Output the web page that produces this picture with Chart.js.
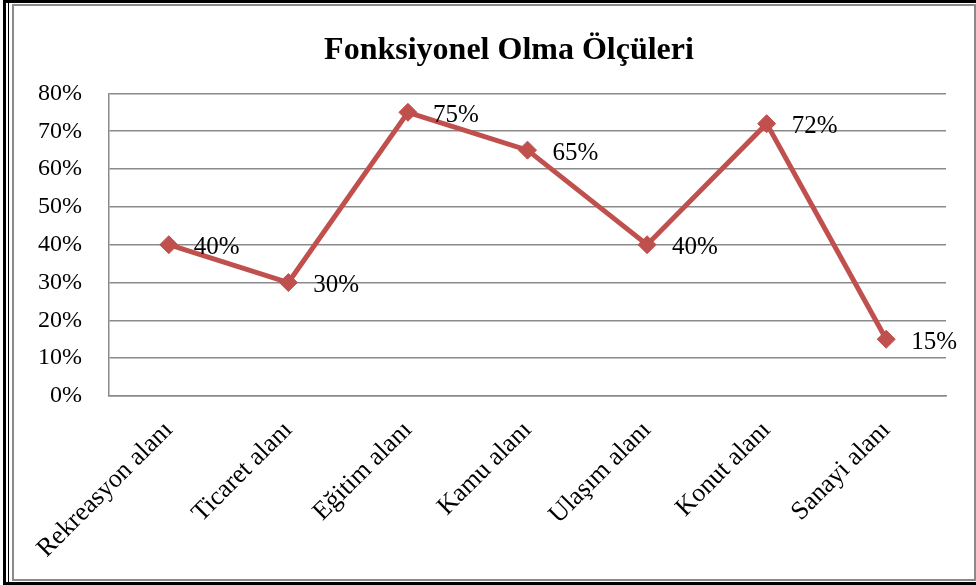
<!DOCTYPE html>
<html>
<head>
<meta charset="utf-8">
<script src="https://cdn.jsdelivr.net/npm/chart.js@4/dist/chart.umd.min.js"></script>
<style>
  html, body { margin: 0; padding: 0; background: #fff; }
  #wrap { position: relative; width: 976px; height: 585px; overflow: hidden; }
  canvas { position: absolute; left: 0; top: 0; }
  .frame { position: absolute; pointer-events: none; box-sizing: border-box; }
</style>
</head>
<body>
<div id="wrap">
  <canvas id="chart" width="976" height="585"></canvas>
  <div class="frame" style="left:3px; top:0; width:990px; height:585px; border-left:3px solid #000; border-top:3px solid #000; border-bottom:3px solid #000;"></div>
  <div class="frame" style="left:8px; top:0; width:10px; height:582px; border-left:1px solid #000;"></div>
  <div class="frame" style="left:12px; top:4px; width:964px; height:577px; border:2px solid #8a8a8a;"></div>
</div>
<script>
// kategori ve değerler
const categories = ['Rekreasyon alanı', 'Ticaret alanı', 'Eğitim alanı', 'Kamu alanı', 'Ulaşım alanı', 'Konut alanı', 'Sanayi alanı'];
const values = [40, 30, 75, 65, 40, 72, 15];
const yTicks = [0, 10, 20, 30, 40, 50, 60, 70, 80];

const serif = '"Liberation Serif", "Times New Roman", serif';
const red = '#C0504D';
const gridGray = '#8a8a8a';

// yüzde etiketlerini noktaların sağına yaz
const pctLabels = {
  id: 'pctLabels',
  afterDatasetsDraw(chart) {
    const ctx = chart.ctx;
    const meta = chart.getDatasetMeta(0);
    ctx.save();
    ctx.font = '25px ' + serif;
    ctx.fillStyle = '#000';
    ctx.textAlign = 'left';
    ctx.textBaseline = 'middle';
    meta.data.forEach((pt, i) => {
      ctx.fillText(values[i] + '%', pt.x + 25, pt.y + 3);
    });
    ctx.restore();
  }
};

// başlık biraz sağda duruyor
const shiftTitle = {
  id: 'shiftTitle',
  afterLayout(chart) {
    const t = chart.titleBlock;
    if (t) { t.left += 21; t.right += 21; }
  }
};

const ctx = document.getElementById('chart').getContext('2d');
new Chart(ctx, {
  type: 'line',
  data: {
    labels: categories,
    datasets: [{
      data: values,
      borderColor: red,
      backgroundColor: red,
      borderWidth: 5,
      pointStyle: 'rectRot',
      pointRadius: 9,
      pointBorderWidth: 1,
      pointBackgroundColor: red,
      pointBorderColor: red,
      tension: 0,
      clip: false
    }]
  },
  options: {
    responsive: false,
    devicePixelRatio: 1,
    animation: false,
    layout: { padding: { left: 30, right: 30, top: 0, bottom: 0 } },
    plugins: {
      legend: { display: false },
      tooltip: { enabled: false },
      title: {
        display: true,
        text: 'Fonksiyonel Olma Ölçüleri',
        color: '#000',
        font: { family: serif, size: 32, weight: 'bold' },
        padding: { top: 32, bottom: 23 }
      }
    },
    scales: {
      x: {
        offset: true,
        grid: { display: false, drawTicks: false },
        border: { display: true, color: gridGray, width: 1.5 },
        ticks: {
          color: '#000',
          font: { family: serif, size: 26 },
          minRotation: 45,
          maxRotation: 45,
          autoSkip: false,
          padding: 19
        },
        afterFit(scale) { scale.height = 189; }
      },
      y: {
        min: 0,
        max: 80,
        afterBuildTicks(scale) { scale.ticks = yTicks.map(v => ({ value: v })); },
        grid: { color: gridGray, lineWidth: 1.5, drawTicks: false },
        border: { display: true, color: gridGray, width: 1.5 },
        ticks: {
          color: '#000',
          font: { family: serif, size: 24 },
          padding: 27,
          callback: v => v + '%'
        },
        afterFit(scale) { scale.width = 79; }
      }
    }
  },
  plugins: [pctLabels, shiftTitle]
});
</script>
</body>
</html>
